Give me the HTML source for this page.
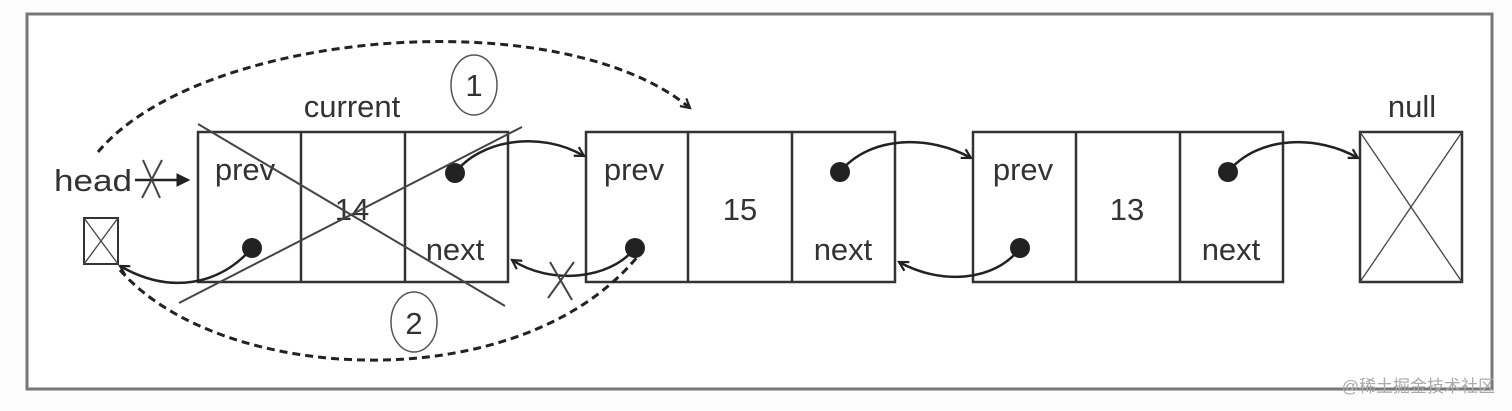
<!DOCTYPE html>
<html><head><meta charset="utf-8"><style>
html,body{margin:0;padding:0;background:#fff;}
svg{display:block;}
text{font-family:"Liberation Sans",sans-serif;fill:#333;}
</style></head><body>
<svg width="1512" height="411" viewBox="0 0 1512 411" xmlns="http://www.w3.org/2000/svg">
<defs>
<marker id="ah" viewBox="0 0 12 12" refX="10" refY="6" markerWidth="12" markerHeight="12" markerUnits="userSpaceOnUse" orient="auto">
<path d="M1,1 L10,6 L1,11" fill="none" stroke="#222" stroke-width="2.2"/>
</marker>
<marker id="ahf" viewBox="0 0 12 12" refX="10" refY="6" markerWidth="14" markerHeight="14" markerUnits="userSpaceOnUse" orient="auto">
<path d="M0,0 L12,6 L0,12 z" fill="#222"/>
</marker>
</defs>
<rect x="0" y="0" width="1512" height="411" fill="#fcfcfc"/>
<rect x="27" y="14" width="1465" height="375" fill="#fff" stroke="#777" stroke-width="3"/>

<g fill="none" stroke="#333" stroke-width="2.5">
<rect x="198" y="132" width="310" height="150"/><line x1="301" y1="132" x2="301" y2="282"/><line x1="405" y1="132" x2="405" y2="282"/>
<rect x="586" y="132" width="309" height="150"/><line x1="688" y1="132" x2="688" y2="282"/><line x1="792" y1="132" x2="792" y2="282"/>
<rect x="973" y="132" width="310" height="150"/><line x1="1076" y1="132" x2="1076" y2="282"/><line x1="1180" y1="132" x2="1180" y2="282"/>
<rect x="1360" y="132" width="102" height="150"/>
<rect x="84" y="218" width="34" height="46" stroke-width="2"/>
</g>
<g stroke="#444" stroke-width="1.3">
<line x1="1360" y1="132" x2="1462" y2="282"/><line x1="1462" y1="132" x2="1360" y2="282"/>
<line x1="84" y1="218" x2="118" y2="264"/><line x1="118" y1="218" x2="84" y2="264"/>
</g>

<g font-size="31" text-anchor="middle">
<text x="352" y="117">current</text>
<text x="1412" y="117">null</text>
<text x="93" y="191" textLength="78" lengthAdjust="spacingAndGlyphs">head</text>
<text x="245" y="180">prev</text>
<text x="352" y="220">14</text>
<text x="455" y="260">next</text>
<text x="634" y="180">prev</text>
<text x="740" y="220">15</text>
<text x="843" y="260">next</text>
<text x="1023" y="180">prev</text>
<text x="1127" y="220">13</text>
<text x="1231" y="260">next</text>
<text x="474" y="96">1</text>
<text x="414" y="334">2</text>
</g>
<g fill="none" stroke="#555" stroke-width="1.5">
<ellipse cx="474" cy="85" rx="23" ry="30"/>
<ellipse cx="414" cy="322" rx="23" ry="30"/>
</g>

<g fill="#222">
<circle cx="455" cy="173" r="10"/><circle cx="252" cy="248" r="10"/>
<circle cx="635" cy="248" r="10"/><circle cx="840" cy="172" r="10"/>
<circle cx="1020" cy="248" r="10"/><circle cx="1228" cy="172" r="10"/>
</g>

<g fill="none" stroke="#222" stroke-width="2.5">
<path d="M455,173 C480,140 540,130 584,156" marker-end="url(#ah)"/>
<path d="M635,248 C610,280 550,285 512,260" marker-end="url(#ah)"/>
<path d="M252,248 C220,285 170,295 120,266" marker-end="url(#ah)"/>
<path d="M840,172 C870,135 930,135 971,158" marker-end="url(#ah)"/>
<path d="M1020,248 C995,282 940,285 899,262" marker-end="url(#ah)"/>
<path d="M1228,172 C1258,135 1318,135 1358,158" marker-end="url(#ah)"/>
<line x1="135" y1="180" x2="188" y2="180" marker-end="url(#ahf)"/>
</g>

<g fill="none" stroke="#222" stroke-width="3" stroke-dasharray="8,5">
<path d="M98,152 C200,30 560,0 690,108" marker-end="url(#ah)"/>
<path d="M120,270 C220,385 520,400 638,256"/>
</g>

<g stroke="#444" stroke-width="2">
<line x1="198" y1="124" x2="505" y2="306"/>
<line x1="179" y1="303" x2="522" y2="127"/>
<line x1="143" y1="160" x2="160" y2="198"/><line x1="162" y1="160" x2="142" y2="198"/>
<line x1="550" y1="262" x2="572" y2="300"/><line x1="574" y1="262" x2="548" y2="298"/>
</g>

<text x="1495" y="392" font-size="17" text-anchor="end" style="font-family:'Liberation Sans','Noto Sans CJK SC',sans-serif;fill:#aaa">@稀土掘金技术社区</text>
</svg>
</body></html>
